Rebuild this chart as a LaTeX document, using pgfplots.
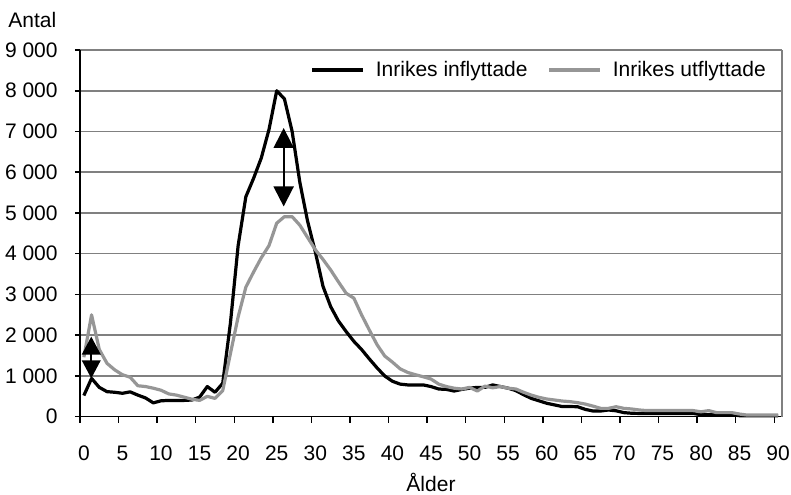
\documentclass[border=0pt]{standalone}
\usepackage{fontspec}
\setmainfont{Liberation Sans}
\usepackage{pgfplots}
\pgfplotsset{compat=1.18}
\usetikzlibrary{arrows.meta}
\definecolor{gridgray}{RGB}{128,128,128}
\definecolor{sergray}{RGB}{150,150,150}
\begin{document}
\begin{tikzpicture}[font=\fontsize{10.5}{12.6}\selectfont]
\begin{axis}[
  scale only axis,
  width=351pt, height=183.35pt,
  xmin=-0.5, xmax=90.5, ymin=0, ymax=9000,
  axis x line*=bottom, axis y line*=left,
  axis line style={black, line width=0.75pt},
  xtick={0,5,...,90},
  minor xtick={-0.5,4.5,...,89.5},
  ytick={0,1000,...,9000},
  tick align=outside,
  major tick length=2.5pt, minor tick length=3pt,
  major x tick style={draw=none},
  minor x tick style={black, line width=0.75pt},
  ytick style={black, line width=0.75pt},
  ymajorgrids,
  major grid style={gridgray, line width=0.75pt},
  /pgf/number format/assume math mode=true,
  /pgf/number format/1000 sep={\ },
  scaled y ticks=false,
  xticklabel style={anchor=north, inner sep=0pt, yshift=-12pt},
  yticklabel style={anchor=east, inner sep=0pt, xshift=-8.5pt},
  clip=false,
  legend columns=2,
  legend image code/.code={\draw[#1] (0pt,0pt) -- (25.5pt,0pt);},
  legend style={draw=none, fill=none, inner sep=0pt, outer sep=0pt,
    at={(rel axis cs:0.3286,0.9455)}, anchor=west,
    nodes={inner sep=0pt},
    /tikz/every odd column/.append style={column sep=5.5pt},
    /tikz/every even column/.append style={column sep=10pt}},
]
\addplot[black, line width=1.6pt, line join=round] coordinates {
(0,520)(1,940)(2,720)(3,615)(4,600)(5,575)(6,610)(7,530)(8,460)(9,340)
(10,390)(11,400)(12,400)(13,400)(14,410)(15,480)(16,740)(17,600)(18,820)(19,2300)
(20,4200)(21,5400)(22,5850)(23,6350)(24,7050)(25,8000)(26,7800)(27,7000)(28,5750)(29,4800)
(30,4050)(31,3200)(32,2700)(33,2350)(34,2090)(35,1850)(36,1650)(37,1420)(38,1200)(39,1000)
(40,870)(41,800)(42,780)(43,780)(44,780)(45,740)(46,680)(47,670)(48,630)(49,670)
(50,700)(51,720)(52,720)(53,780)(54,740)(55,700)(56,640)(57,540)(58,450)(59,390)
(60,330)(61,290)(62,250)(63,250)(64,245)(65,180)(66,140)(67,140)(68,165)(69,145)
(70,100)(71,85)(72,80)(73,80)(74,80)(75,80)(76,80)(77,80)(78,80)(79,80)
(80,50)(81,50)(82,50)(83,50)(84,50)(85,25)(86,25)(87,25)(88,25)(89,25)(90,25)
};
\addlegendentry{Inrikes inflyttade}
\addplot[sergray, line width=1.6pt, line join=round] coordinates {
(0,1460)(1,2500)(2,1650)(3,1310)(4,1150)(5,1030)(6,970)(7,760)(8,740)(9,700)
(10,650)(11,560)(12,530)(13,480)(14,430)(15,400)(16,500)(17,450)(18,640)(19,1550)
(20,2450)(21,3180)(22,3550)(23,3900)(24,4200)(25,4750)(26,4910)(27,4910)(28,4700)(29,4400)
(30,4100)(31,3860)(32,3600)(33,3310)(34,3030)(35,2910)(36,2500)(37,2130)(38,1770)(39,1490)
(40,1340)(41,1175)(42,1085)(43,1030)(44,980)(45,925)(46,800)(47,740)(48,700)(49,680)
(50,720)(51,630)(52,750)(53,710)(54,740)(55,700)(56,680)(57,600)(58,530)(59,475)
(60,435)(61,410)(62,385)(63,370)(64,345)(65,310)(66,260)(67,205)(68,205)(69,245)
(70,205)(71,190)(72,165)(73,150)(74,150)(75,150)(76,150)(77,150)(78,150)(79,150)
(80,120)(81,150)(82,100)(83,100)(84,100)(85,65)(86,40)(87,40)(88,40)(89,40)(90,40)
};
\addlegendentry{Inrikes utflyttade}
\draw[gridgray, line width=0.75pt] (rel axis cs:1,0) -- (rel axis cs:1,1);
\draw[black, line width=1pt, {Triangle[width=10pt,length=10pt]}-{Triangle[width=10pt,length=10pt]}]
  (axis cs:25.9,5160) -- (axis cs:25.9,7086);
\draw[black, line width=1pt, {Triangle[width=9.3pt,length=9pt]}-{Triangle[width=9.3pt,length=9pt]}]
  (axis cs:0.96,943) -- (axis cs:0.96,1966);
\node[anchor=base west, inner sep=0pt] at (rel axis cs:0,1) [xshift=-36pt, yshift=11.5pt] {Antal};
\node[anchor=base, inner sep=0pt] at (rel axis cs:0.5,0) [yshift=-37.2pt] {Ålder};
\end{axis}
\path (current axis.south west) ++(-40pt,-38.65pt) (current axis.north east) ++(4.5pt,25pt);
\end{tikzpicture}
\end{document}
